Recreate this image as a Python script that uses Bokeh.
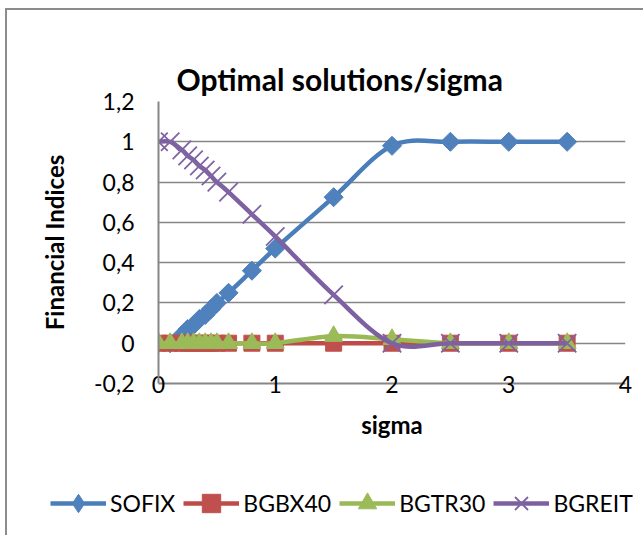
import math
from bokeh.plotting import figure
from bokeh.layouts import column, row
from bokeh.models import FixedTicker, Legend, LegendItem, Range1d, ColumnDataSource, Title
from bokeh.embed import file_html
from bokeh.resources import INLINE

# ---------------- data ----------------
sigma = [0, 0.1, 0.2, 0.25, 0.3, 0.35, 0.4, 0.45, 0.5, 0.6, 0.8, 1.0, 1.5, 2.0, 2.5, 3.0, 3.5]
sofix = [0, 0, 0.04, 0.07, 0.09, 0.12, 0.14, 0.17, 0.2, 0.25, 0.36, 0.47, 0.725, 0.98, 1.0, 1.0, 1.0]
bgbx40 = [0, 0, 0, 0, 0, 0, 0, 0, 0, 0, 0, 0, 0, 0, 0, 0, 0]
bgtr30 = [0, 0, 0, 0, 0, 0, 0, 0, 0, 0, 0, 0, 0.035, 0.02, 0, 0, 0]
bgreit = [1.0, 1.0, 0.96, 0.93, 0.91, 0.88, 0.86, 0.83, 0.8, 0.75, 0.64, 0.53, 0.24, 0, 0, 0, 0]

series_names = ["SOFIX", "BGBX40", "BGTR30", "BGREIT"]
x_ticks = [0, 1, 2, 3, 4]
y_ticks = [-0.2, 0, 0.2, 0.4, 0.6, 0.8, 1.0, 1.2]
y_tick_labels = ["-0,2", "0", "0,2", "0,4", "0,6", "0,8", "1", "1,2"]

title_text = "Optimal solutions/sigma"
x_title = "sigma"
y_title = "Financial Indices"

# ---------------- styles ----------------
FONT = "Lato"
GRID = "#868686"
styles = [
    dict(color="#4A7EBB", fill="#4F81BD", marker="square", angle=math.pi / 4, size=13.5, lw=1, leg_marker="diamond"),
    dict(color="#BE4B48", fill="#C0504D", marker="square", angle=0, size=16, lw=1, leg_marker="square"),
    dict(color="#98B954", fill="#9BBB59", marker="triangle", angle=0, size=18, lw=1, leg_marker="triangle"),
    dict(color="#7D60A0", fill="#8064A2", marker="x", angle=0, size=26, lw=1.8, leg_marker="x"),
]
all_series = [sofix, bgbx40, bgtr30, bgreit]


def smooth_source(xs, ys, t=1.0 / 6.0):
    """Bezier control points (Catmull-Rom style, like a smoothed Excel line)."""
    n = len(xs)
    d = dict(x0=[], y0=[], x1=[], y1=[], cx0=[], cy0=[], cx1=[], cy1=[])
    for i in range(n - 1):
        ip = max(i - 1, 0)
        inn = min(i + 2, n - 1)
        d["x0"].append(xs[i]); d["y0"].append(ys[i])
        d["x1"].append(xs[i + 1]); d["y1"].append(ys[i + 1])
        d["cx0"].append(xs[i] + (xs[i + 1] - xs[ip]) * t)
        d["cy0"].append(ys[i] + (ys[i + 1] - ys[ip]) * t)
        d["cx1"].append(xs[i + 1] - (xs[inn] - xs[i]) * t)
        d["cy1"].append(ys[i + 1] - (ys[inn] - ys[i]) * t)
    return ColumnDataSource(d)


# ---------------- main chart ----------------
p = figure(width=636, height=445, output_backend="svg", toolbar_location=None,
           x_range=Range1d(0, 4), y_range=Range1d(-0.2, 1.2),
           min_border_left=151, min_border_right=18, min_border_top=91, min_border_bottom=72)

p.background_fill_color = "white"
p.border_fill_color = "white"
p.outline_line_color = None
p.title.text = ""

# "above" panels: the last one added sits nearest the frame (invisible spacer)
p.add_layout(Title(text=title_text, align="left", offset=18, standoff=10,
                   text_font=FONT, text_font_style="bold", text_font_size="30px",
                   text_color="black"), "above")
p.add_layout(Title(text=".", text_font_size="10px", standoff=16, text_alpha=0), "above")

for ax in (p.xaxis[0], p.yaxis[0]):
    ax.axis_line_color = GRID
    ax.axis_line_width = 2
    ax.major_tick_in = 0
    ax.major_tick_out = 0
    ax.minor_tick_line_color = None
    ax.major_label_text_font = FONT
    ax.major_label_text_font_size = "23px"
    ax.major_label_text_color = "black"
    ax.axis_label_text_font = FONT
    ax.axis_label_text_font_style = "bold"
    ax.axis_label_text_font_size = "24px"
    ax.axis_label_text_color = "black"

p.xaxis.ticker = FixedTicker(ticks=x_ticks)
p.xaxis.axis_label = x_title
p.xaxis.major_label_standoff = -8
p.xaxis.axis_label_standoff = 14

p.yaxis.ticker = FixedTicker(ticks=y_ticks)
p.yaxis.major_label_overrides = {t: s for t, s in zip(y_ticks, y_tick_labels)}
p.yaxis.axis_label = y_title
p.yaxis.major_label_standoff = 24
p.yaxis.axis_label_standoff = 22

p.xgrid.grid_line_color = None
p.ygrid.ticker = FixedTicker(ticks=y_ticks)
p.ygrid.grid_line_color = GRID
p.ygrid.grid_line_width = 1.6

for ys, st in zip(all_series, styles):
    p.bezier(x0="x0", y0="y0", x1="x1", y1="y1", cx0="cx0", cy0="cy0",
             cx1="cx1", cy1="cy1", source=smooth_source(sigma, ys),
             line_color=st["color"], line_width=4.5)
    if st["marker"] == "x":
        p.scatter(sigma, ys, marker="x", size=st["size"], line_color=st["fill"],
                  line_width=st["lw"])
    else:
        p.scatter(sigma, ys, marker=st["marker"], angle=st["angle"], size=st["size"],
                  fill_color=st["fill"], line_color=st["fill"], line_width=st["lw"])

# ---------------- legend strip (its own range shows none of the data) ----------------
pl = figure(width=636, height=80, output_backend="svg", toolbar_location=None,
            x_range=Range1d(100, 101), y_range=Range1d(100, 101),
            x_axis_type=None, y_axis_type=None,
            min_border_left=0, min_border_right=0, min_border_top=0, min_border_bottom=0)
pl.outline_line_color = None
pl.xgrid.grid_line_color = None
pl.ygrid.grid_line_color = None
pl.background_fill_color = "white"
pl.border_fill_color = "white"

items = []
for name, ys, st in zip(series_names, all_series, styles):
    line_proxy = pl.line(sigma, ys, line_color=st["color"], line_width=4.5)
    if st["marker"] == "x":
        mk = pl.scatter(sigma, ys, marker="x", line_color=st["fill"], line_width=st["lw"])
    else:
        mk = pl.scatter(sigma, ys, marker=st["leg_marker"], fill_color=st["fill"],
                        line_color=st["fill"], line_width=st["lw"])
    items.append(LegendItem(label=name, renderers=[line_proxy, mk]))

legend = Legend(items=items, orientation="horizontal", location=(43, 9),
                glyph_width=56, glyph_height=46, label_standoff=4, spacing=8,
                padding=0, margin=0, border_line_color=None, background_fill_alpha=0,
                label_text_font=FONT, label_text_font_size="23px", label_text_color="black")
pl.add_layout(legend, "center")

layout = column(p, row(pl), spacing=0, margin=(8, 0, 0, 5),
                styles={"border-left": "2px solid #8c8c8c", "border-top": "2px solid #8c8c8c"})

open("out.html", "w").write(file_html(layout, INLINE))
